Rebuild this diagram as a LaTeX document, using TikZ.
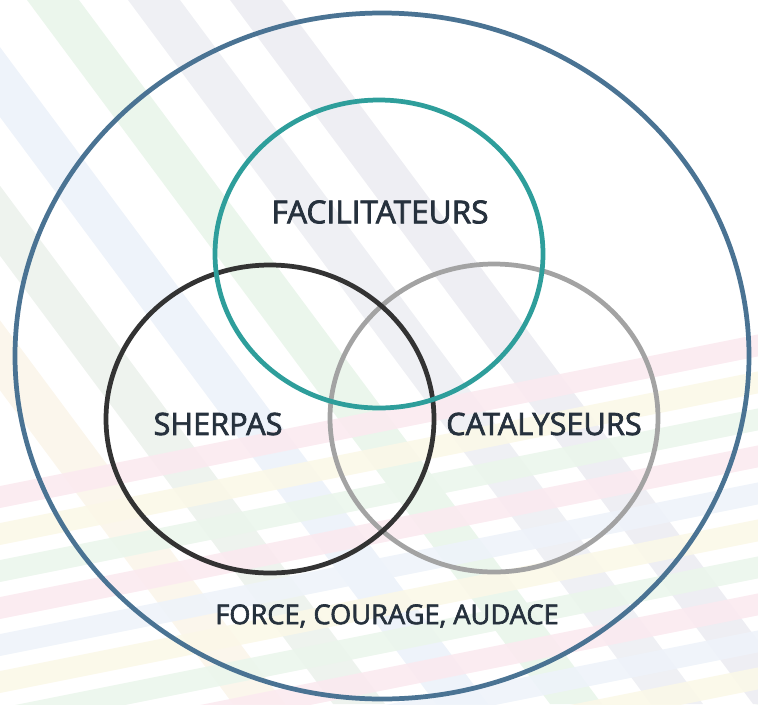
\documentclass[tikz,border=0pt]{standalone}
\usepackage{fontspec}
\setmainfont{Open Sans}
\newfontfamily\lblfont{Open Sans}[FakeBold=2.3]
\usepackage{tikz}
\usetikzlibrary{calc}
\definecolor{ringout}{HTML}{4A7393}
\definecolor{ringteal}{HTML}{2E9E9B}
\definecolor{ringdark}{HTML}{333333}
\definecolor{ringgrey}{HTML}{A3A3A3}
\definecolor{labeltext}{HTML}{26313D}
\definecolor{bcream}{HTML}{FBF6EC}
\definecolor{bsage}{HTML}{EEF3EE}
\definecolor{bblue}{HTML}{EEF3FA}
\definecolor{bgreen}{HTML}{EBF6EC}
\definecolor{bgrey}{HTML}{EFF0F4}
\definecolor{blav}{HTML}{EEEEF3}
\definecolor{bpink}{HTML}{FBEAF0}
\definecolor{byellow}{HTML}{FBF8E8}
\newcommand{\rw}{164}
\newcommand{\rh}{154}
\tikzset{
  ring/.style={line width=2.7pt},
  lbl/.style={text=labeltext,font=\lblfont\fontsize{17.5}{20}\selectfont,inner sep=0pt}
}

\begin{document}
\begin{tikzpicture}[x=0.02cm,y=-0.02cm]
                    \useasboundingbox (0,0) rectangle (758,704);
                    \begin{scope}
                    \clip (0,0) rectangle (758,704);
                    \foreach \o/\c in {-290/bcream,-190/bsage,-87/bblue,27/bgreen,128/bgrey,230/blav}{
                    \fill[\c] (\o,0) -- (\o+52,0) -- (\o+52+523,704) -- (\o+523,704) -- cycle;
                    }
                    \foreach \o/\c in {490/bpink,527/byellow,564/bgreen,601/bpink,638/bblue,675/byellow,712/bgreen,749/bpink,786/bblue,823/byellow,860/bgreen}{
                    \fill[\c,opacity=0.9] (-20,\o) -- (780,\o-160) -- (780,\o-138) -- (-20,\o+22) -- cycle;
                    }
                    \end{scope}
                    \coordinate (o) at (382,356);
                    \coordinate (f) at (379,254);
                    \coordinate (s) at (270,419);
                    \coordinate (k) at (494,418);
                    \draw[ring,ringout] (o) ellipse [x radius=367, y radius=343];
                    \draw[ring,ringgrey] (k) ellipse [x radius=\rw, y radius=\rh];
                    \draw[ring,ringdark] (s) ellipse [x radius=\rw, y radius=\rh];
                    \draw[ring,ringteal] (f) ellipse [x radius=\rw, y radius=\rh];
                    \node[lbl,font=\lblfont\fontsize{18}{20}\selectfont] (fac) at (380,212) {FACILITATEURS};
                    \node[lbl] (she) at (218,424) {SHERPAS};
                    \node[lbl] (cat) at (544,424) {CATALYSEURS};
                    \node[lbl,font=\lblfont\fontsize{15.5}{18}\selectfont] (fca) at (387,616) {FORCE, COURAGE, AUDACE};
\end{tikzpicture}
\end{document}
